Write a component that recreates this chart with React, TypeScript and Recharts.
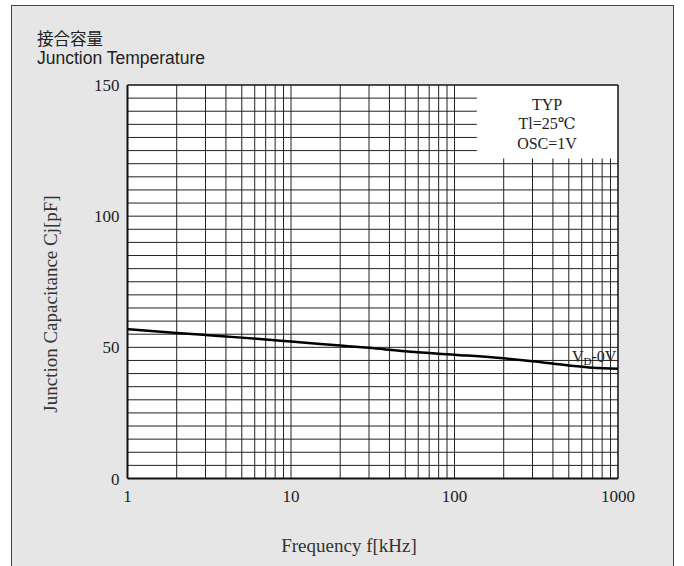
import React from "react";
import {
  LineChart,
  Line,
  XAxis,
  YAxis,
  CartesianGrid,
  ReferenceLine,
} from "recharts";

// Measured curve (Vd = 0V)
const frequencies = [1, 2, 3, 5, 7, 10, 20, 30, 50, 100, 200, 300, 500, 700, 1000];
const capacitances = [56.9, 55.5, 54.7, 53.7, 53.0, 52.2, 50.7, 49.8, 48.5, 47.2, 45.8, 44.7, 43.1, 42.2, 41.8];

// Axis ticks
const xTicks = [1, 10, 100, 1000];
const yTicks = [0, 50, 100, 150];

// Grid lines
const gridXFull = [2, 3, 4, 5, 6, 7, 8, 9, 10, 20, 30, 40, 50, 60, 70, 80, 90, 100];
const gridXShort = [200, 300, 400, 500, 600, 700, 800, 900];
const gridYFull = [5, 10, 15, 20, 25, 30, 35, 40, 45, 50, 55, 60, 65, 70, 75, 80, 85, 90, 95, 100, 105, 110, 115, 120];
const gridYShort = [125, 130, 135, 140, 145];
const shortTopY = 122; // vertical lines above 100 kHz stop below the note box
const shortRightX = 137; // horizontal lines in the top rows stop at the note box

const noteLines = ["TYP", "Tl=25℃", "OSC=1V"];

const data = frequencies.map((f, i) => ({ f, c: capacitances[i] }));

const serif = "'Liberation Serif', 'DejaVu Serif', serif";
const gridColor = "#222";

export default function App() {
  return (
    <div
      style={{
        position: "absolute",
        left: 0,
        top: 0,
        width: 684,
        height: 566,
        overflow: "hidden",
        background: "#fff",
      }}
    >
      <div
        style={{
          position: "absolute",
          left: 11,
          top: 5,
          width: 661,
          height: 600,
          background: "#e6e6e6",
          borderLeft: "1.5px solid #444",
          borderTop: "1.5px solid #444",
          borderRight: "1.5px solid #444",
        }}
      />
      <div
        style={{
          position: "absolute",
          left: 37,
          top: 29,
          fontFamily: "'Noto Sans CJK JP', sans-serif",
          fontSize: 16.5,
          color: "#222",
          lineHeight: "18px",
        }}
      >
        接合容量
      </div>
      <div
        style={{
          position: "absolute",
          left: 37,
          top: 48,
          fontFamily: "'Liberation Sans', Arial, sans-serif",
          fontSize: 17.5,
          color: "#222",
          lineHeight: "20px",
          whiteSpace: "nowrap",
        }}
      >
        Junction Temperature
      </div>
      <div style={{ position: "absolute", left: 0, top: 0 }}>
        <LineChart
          width={684}
          height={566}
          data={data}
          margin={{ top: 85, right: 66, left: 67.5, bottom: 57.5 }}
        >
          <CartesianGrid fill="#fff" horizontal={false} vertical={false} />
          {gridYFull.map((y) => (
            <ReferenceLine key={"yf" + y} y={y} stroke={gridColor} strokeWidth={1} />
          ))}
          {gridYShort.map((y) => (
            <ReferenceLine
              key={"ys" + y}
              segment={[
                { x: 1, y },
                { x: shortRightX, y },
              ]}
              stroke={gridColor}
              strokeWidth={1}
            />
          ))}
          {gridXFull.map((x) => (
            <ReferenceLine key={"xf" + x} x={x} stroke={gridColor} strokeWidth={1} />
          ))}
          {gridXShort.map((x) => (
            <ReferenceLine
              key={"xs" + x}
              segment={[
                { x, y: 0 },
                { x, y: shortTopY },
              ]}
              stroke={gridColor}
              strokeWidth={1}
            />
          ))}
          <ReferenceLine y={150} stroke="#111" strokeWidth={1.5} />
          <ReferenceLine x={1000} stroke="#111" strokeWidth={1.5} />
          <XAxis
            dataKey="f"
            type="number"
            scale="log"
            domain={[1, 1000]}
            ticks={xTicks}
            allowDataOverflow
            height={30}
            tickLine={false}
            tickMargin={5}
            axisLine={{ stroke: "#111", strokeWidth: 2 }}
            tick={{ fill: "#222", fontFamily: serif, fontSize: 17 }}
            interval={0}
          />
          <YAxis
            type="number"
            domain={[0, 150]}
            ticks={yTicks}
            width={60}
            tickLine={false}
            axisLine={{ stroke: "#111", strokeWidth: 2 }}
            tick={{ fill: "#222", fontFamily: serif, fontSize: 17 }}
            interval={0}
          />
          <Line
            type="monotone"
            dataKey="c"
            stroke="#000"
            strokeWidth={2.5}
            dot={false}
            activeDot={false}
            isAnimationActive={false}
          />
          <text x={572} y={362} fontFamily={serif} fontSize={16} fill="#222">
            V<tspan fontSize={11} dy={3}>D</tspan>
            <tspan dy={-3}>-0V</tspan>
          </text>
          {noteLines.map((t, i) => (
            <text
              key={t}
              x={547}
              y={110 + i * 19.3}
              textAnchor="middle"
              fontFamily={serif}
              fontSize={16}
              fill="#222"
            >
              {t}
            </text>
          ))}
          <text
            x={50}
            y={304}
            transform="rotate(-90 50 304)"
            textAnchor="middle"
            dominantBaseline="central"
            fontFamily={serif}
            fontSize={19}
            fill="#333"
          >
            Junction Capacitance Cj[pF]
          </text>
          <text
            x={349}
            y={552}
            textAnchor="middle"
            fontFamily={serif}
            fontSize={19}
            fill="#333"
          >
            Frequency f[kHz]
          </text>
        </LineChart>
      </div>
    </div>
  );
}
